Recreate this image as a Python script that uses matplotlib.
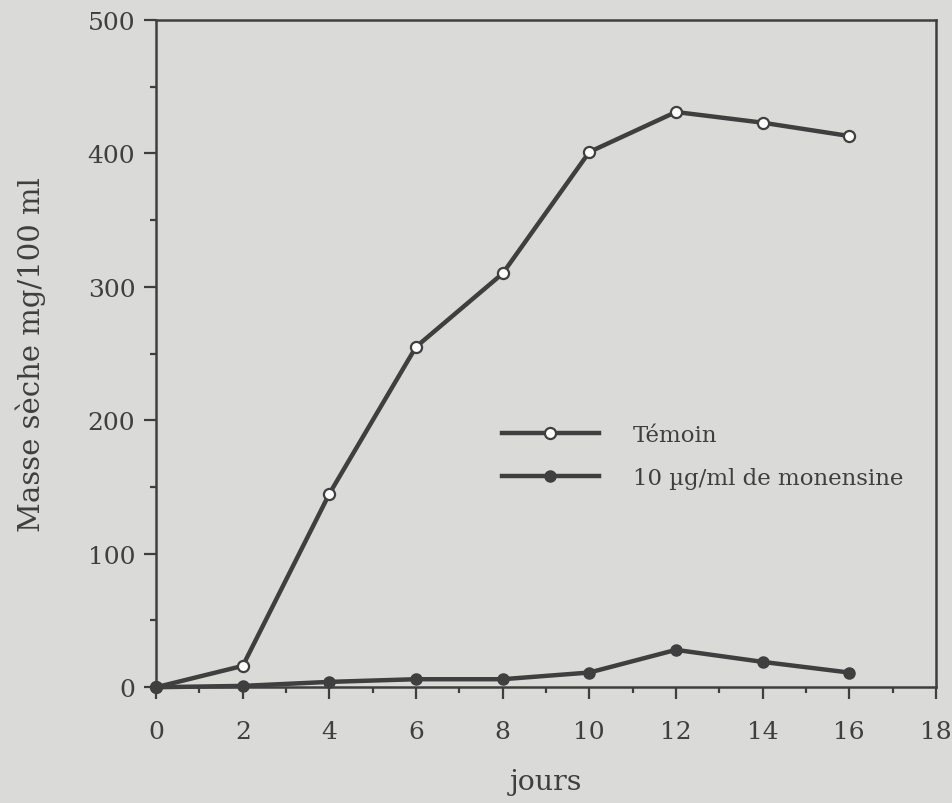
import matplotlib.pyplot as plt
from matplotlib.ticker import MultipleLocator

jours = [0, 2, 4, 6, 8, 10, 12, 14, 16]
temoin = [0, 16, 145, 255, 310, 401, 431, 423, 413]
monensine = [0, 1, 4, 6, 6, 11, 28, 19, 11]

bg = '#dadad8'
ink = '#3f3f3f'

plt.rcParams['font.family'] = ['DejaVu Serif']

fig = plt.figure(figsize=(9.52, 8.04), dpi=100, facecolor=bg)
ax = fig.add_axes([0.164, 0.144, 0.819, 0.830], facecolor=bg)

ax.plot(jours, temoin, color=ink, lw=3.2, marker='o', ms=8, mfc='white',
        mec=ink, mew=1.6, label='Témoin', clip_on=False, zorder=3)
ax.plot(jours, monensine, color=ink, lw=3.2, marker='o', ms=8, mfc=ink,
        mec=ink, label='10 µg/ml de monensine', clip_on=False, zorder=3)

ax.set_xlim(0, 18)
ax.set_ylim(0, 500)
ax.xaxis.set_major_locator(MultipleLocator(2))
ax.xaxis.set_minor_locator(MultipleLocator(1))
ax.yaxis.set_major_locator(MultipleLocator(100))
ax.yaxis.set_minor_locator(MultipleLocator(50))
ax.tick_params(which='major', direction='out', length=8.5, width=1.6,
               color=ink, labelsize=18, labelcolor=ink)
ax.tick_params(which='minor', direction='out', length=4.5, width=1.6, color=ink)
ax.tick_params(axis='x', pad=15)
ax.tick_params(axis='y', pad=6.5)
for s in ax.spines.values():
    s.set_color(ink)
    s.set_linewidth(1.8)

ax.set_xlabel('jours', fontsize=20.5, color=ink, labelpad=18)
ax.set_ylabel('Masse sèche mg/100 ml', fontsize=21, color=ink, labelpad=30)

leg = ax.legend(loc='center left', bbox_to_anchor=(0.444, 0.346), frameon=False,
                fontsize=16.5, handlelength=4.2, handletextpad=1.5,
                labelspacing=0.9, borderpad=0, borderaxespad=0)
for t in leg.get_texts():
    t.set_color(ink)

fig.savefig('out.png', dpi=100, facecolor=bg)
